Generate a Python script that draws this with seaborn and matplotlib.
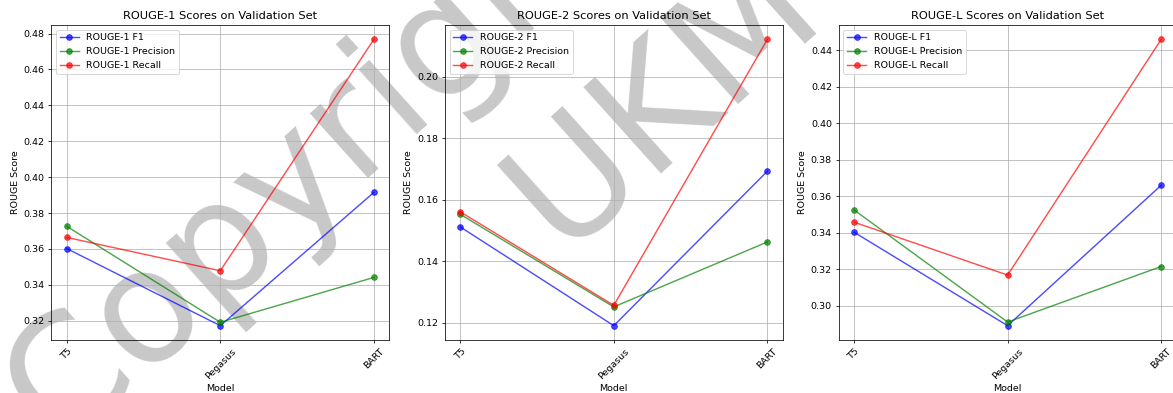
import matplotlib
matplotlib.use("Agg")
import matplotlib.pyplot as plt
import seaborn as sns
import pandas as pd

models = ["T5", "Pegasus", "BART"]
metrics = ["ROUGE-1", "ROUGE-2", "ROUGE-L"]
series_names = ["F1", "Precision", "Recall"]

rouge1_f1 = [0.3602, 0.3172, 0.3915]
rouge1_precision = [0.3726, 0.3191, 0.3441]
rouge1_recall = [0.3664, 0.3478, 0.4768]

rouge2_f1 = [0.1512, 0.1191, 0.1693]
rouge2_precision = [0.1553, 0.1252, 0.1463]
rouge2_recall = [0.1561, 0.1257, 0.2121]

rougeL_f1 = [0.3404, 0.2892, 0.3661]
rougeL_precision = [0.3526, 0.2912, 0.3216]
rougeL_recall = [0.3459, 0.3169, 0.4460]

data = {
    "ROUGE-1": [rouge1_f1, rouge1_precision, rouge1_recall],
    "ROUGE-2": [rouge2_f1, rouge2_precision, rouge2_recall],
    "ROUGE-L": [rougeL_f1, rougeL_precision, rougeL_recall],
}
colors = ["blue", "green", "red"]

DPI = 68
fig = plt.figure(figsize=(1173 / DPI, 393 / DPI), dpi=DPI)

lefts = [51.3, 444.8, 838.6]
W, H = 1173.0, 393.0
for i, metric in enumerate(metrics):
    ax = fig.add_axes([lefts[i] / W, 1 - 340 / H, 338 / W, (340 - 25) / H])
    ax.set_facecolor("none")
    for name, vals, col in zip(series_names, data[metric], colors):
        df = pd.DataFrame({"Model": models, "Score": vals})
        sns.lineplot(data=df, x="Model", y="Score", ax=ax, sort=False,
                     color=col, marker="o", markersize=6,
                     markeredgecolor=col, markeredgewidth=1,
                     alpha=0.7, linewidth=1.5,
                     label=f"{metric} {name}")
    ax.set_title(f"{metric} Scores on Validation Set")
    ax.set_xlabel("Model")
    ax.set_ylabel("ROUGE Score")
    ax.grid(True)
    ax.tick_params(axis="x", labelrotation=45)
    ax.legend(loc="upper left")

# watermark
wm_kw = dict(rotation=42, rotation_mode="anchor", ha="left", va="baseline",
             color="#c8c8c8", fontsize=158 * 72 / DPI, zorder=-1,
             family="DejaVu Sans")
fig.text(57.9 / W, 1 - 449.9 / H, "Copyright", **wm_kw)
fig.text(560.7 / W, 1 - 251.9 / H, "UKM", **wm_kw)

fig.savefig("out.png", dpi=DPI)
